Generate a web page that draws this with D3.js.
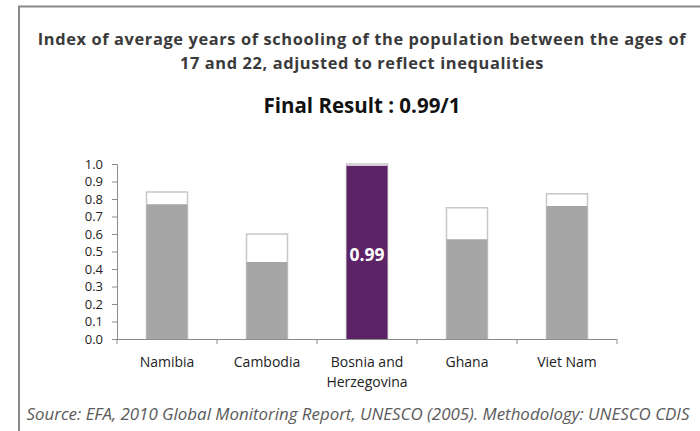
<!DOCTYPE html>
<html lang="en">
<head>
    <meta charset="UTF-8" />
    <script src="https://d3js.org/d3.v7.min.js"></script>
    <title>Schooling index</title>
    <style>
        body { margin: 0; background: #fff; }
        .axis path, .axis line { stroke: #8c8c8c; }
        .axis text { fill: #222; }
    </style>
</head>
<body>
<script>
    const countries = ["Namibia", "Cambodia", "Bosnia and Herzegovina", "Ghana", "Viet Nam"];
    const totalValues = [0.84, 0.60, 1.00, 0.75, 0.83];
    const adjustedValues = [0.77, 0.44, 0.99, 0.57, 0.76];
    const yTicks = [0, 0.1, 0.2, 0.3, 0.4, 0.5, 0.6, 0.7, 0.8, 0.9, 1.0];
    const highlight = "Bosnia and Herzegovina";

    const W = 700, H = 431;
    const font = "'Open Sans', sans-serif";
    const svg = d3.select("body").append("svg")
        .attr("width", W).attr("height", H)
        .style("font-family", font);

    // outer frame (right/bottom run off the picture)
    svg.append("rect")
        .attr("x", 19).attr("y", 6.5)
        .attr("width", 720).attr("height", 440)
        .attr("fill", "none").attr("stroke", "#8a8a8a").attr("stroke-width", 2);

    svg.append("text").attr("x", 362).attr("y", 45)
        .attr("text-anchor", "middle").attr("font-size", 16.4).attr("font-weight", 700)
        .attr("letter-spacing", 0.62).attr("fill", "#3a3a3a")
        .text("Index of average years of schooling of the population between the ages of");
    svg.append("text").attr("x", 362).attr("y", 68.5)
        .attr("text-anchor", "middle").attr("font-size", 16.4).attr("font-weight", 700)
        .attr("letter-spacing", 0.62).attr("fill", "#3a3a3a")
        .text("17 and 22, adjusted to reflect inequalities");
    svg.append("text").attr("x", 362).attr("y", 112.5)
        .attr("text-anchor", "middle").attr("font-size", 20.5).attr("font-weight", 700)
        .attr("fill", "#111")
        .text("Final Result : 0.99/1");

    const plotL = 117, plotR = 617, plotT = 164, plotB = 339;
    const x = d3.scaleBand().domain(countries).range([plotL, plotR]).paddingInner(0.59).paddingOuter(0.295);
    const y = d3.scaleLinear().domain([0, 1]).range([plotB, plotT]);

    const g = svg.append("g");

    // total (white) bars
    g.selectAll("rect.total").data(countries).join("rect")
        .attr("class", "total")
        .attr("x", d => x(d)).attr("width", x.bandwidth())
        .attr("y", (d, i) => y(totalValues[i]))
        .attr("height", (d, i) => plotB - y(totalValues[i]))
        .attr("fill", "#fff").attr("stroke", "#c8c8c8").attr("stroke-width", 1.5);

    // adjusted bars
    g.selectAll("rect.adj").data(countries).join("rect")
        .attr("class", "adj")
        .attr("x", d => x(d)).attr("width", x.bandwidth())
        .attr("y", (d, i) => y(adjustedValues[i]))
        .attr("height", (d, i) => plotB - y(adjustedValues[i]))
        .attr("fill", d => d === highlight ? "#5c2367" : "#a6a6a6");

    const hi = countries.indexOf(highlight);
    svg.append("text")
        .attr("x", x(highlight) + x.bandwidth() / 2)
        .attr("y", 260.5)
        .attr("text-anchor", "middle").attr("font-size", 17.5).attr("font-weight", 700)
        .attr("fill", "#fff")
        .text(adjustedValues[hi].toFixed(2));

    // y axis
    const axisY = d3.axisLeft(y).tickValues(yTicks).tickFormat(d3.format(".1f")).tickSize(5).tickPadding(9);
    svg.append("g").attr("class", "axis").attr("transform", `translate(${plotL},0)`)
        .call(axisY)
        .call(s => s.selectAll("text").attr("font-size", 13).style("font-family", font));

    // x axis: line with ticks at band edges
    const xa = svg.append("g").attr("class", "axis");
    xa.append("line").attr("x1", plotL).attr("x2", plotR).attr("y1", plotB + 0.5).attr("y2", plotB + 0.5);
    const step = x.step();
    const edges = d3.range(countries.length + 1).map(i => plotL + i * step);
    xa.selectAll("line.tk").data(edges).join("line").attr("class", "tk")
        .attr("x1", d => d).attr("x2", d => d)
        .attr("y1", plotB).attr("y2", plotB + 5);

    const labels = xa.selectAll("text.lab").data(countries).join("text")
        .attr("class", "lab")
        .attr("x", d => x(d) + x.bandwidth() / 2)
        .attr("y", 367)
        .attr("text-anchor", "middle").attr("font-size", 14).attr("fill", "#222");
    labels.each(function (d) {
        const t = d3.select(this);
        const parts = d === "Bosnia and Herzegovina" ? ["Bosnia and", "Herzegovina"] : [d];
        parts.forEach((p, i) => t.append("tspan").attr("x", x(d) + x.bandwidth() / 2).attr("dy", i ? 20 : 0).text(p));
    });

    svg.append("text").attr("x", 358).attr("y", 420)
        .attr("text-anchor", "middle").attr("font-size", 16.9).attr("font-style", "italic")
        .attr("fill", "#5a5a5a")
        .text("Source: EFA, 2010 Global Monitoring Report, UNESCO (2005). Methodology: UNESCO CDIS");
</script>
</body>
</html>
